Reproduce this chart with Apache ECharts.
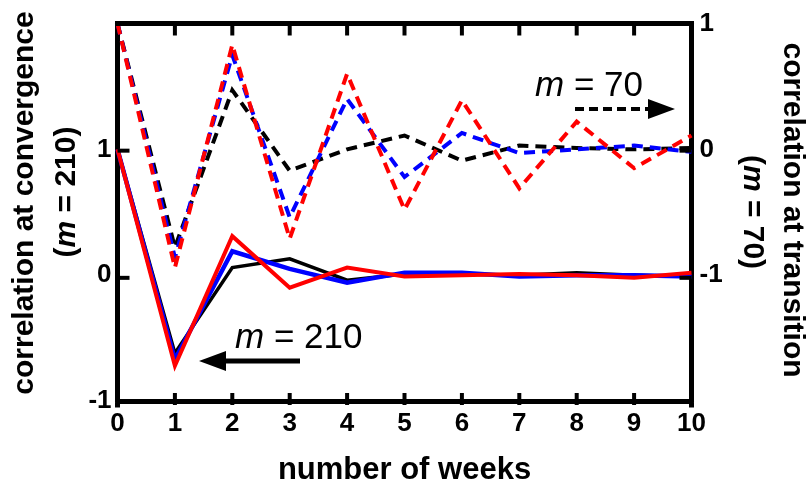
<!DOCTYPE html>
<html>
<head>
<meta charset="utf-8">
<script src="https://cdn.jsdelivr.net/npm/echarts@6/dist/echarts.min.js"></script>
<style>html,body{margin:0;padding:0;background:#fff}#c{width:811px;height:491px}</style>
</head>
<body>
<div id="c"></div>
<script>
// ---- data ----
const weeks = [0, 1, 2, 3, 4, 5, 6, 7, 8, 9, 10];
// correlation at convergence (m = 210), left axis, solid lines
const convBlack = [1, -0.62, 0.06, 0.13, -0.04, 0.01, 0.01, 0.00, 0.02, 0.00, -0.01];
const convBlue  = [1, -0.67, 0.19, 0.05, -0.06, 0.02, 0.02, -0.01, 0.00, 0.00, -0.01];
const convRed   = [1, -0.72, 0.31, -0.10, 0.06, -0.01, 0.00, 0.01, 0.00, -0.02, 0.02];
// correlation at transition (m = 70), right axis, dashed lines
const transBlack = [1, -0.78, 0.47, -0.17, 0.00, 0.11, -0.09, 0.03, 0.01, 0.00, 0.01];
const transBlue  = [1, -0.86, 0.75, -0.54, 0.40, -0.22, 0.13, -0.03, 0.00, 0.03, -0.02];
const transRed   = [1, -0.94, 0.83, -0.71, 0.60, -0.48, 0.39, -0.31, 0.22, -0.15, 0.11];
// tick labels / inner tick marks
const leftTicks = [-1, 0, 1];
const rightTicks = [-1, 0, 1];
const xInnerTicks = [1, 2, 3, 4, 5, 6, 7, 8, 9];
const leftInnerTicks = [0, 1];
const rightInnerTicks = [-1, 0];

const FONT = '"Liberation Sans", Arial, sans-serif';
const pair = (ys) => weeks.map((w, i) => [w, ys[i]]);

const GRID = {left: 117.5, right: 119.5, top: 23.5, bottom: 86};
const W = 811, H = 491, TICK_PX = 12, TICK_W = 4;
const X_MIN = 0, X_MAX = 10, YL_MIN = -1, YL_MAX = 2, YR_MIN = -2, YR_MAX = 1;
const plotW = W - GRID.left - GRID.right, plotH = H - GRID.top - GRID.bottom;

const chart = echarts.init(document.getElementById('c'), null, {renderer: 'canvas', width: W, height: H});

const labelStyle = {color: '#000', fontSize: 26, fontWeight: 'bold', fontFamily: FONT};
const mkLine = () => ({show: true, onZero: false, lineStyle: {color: '#000', width: 5}});

function lineSeries(data, color, yIdx, dashed, width) {
  return {
    type: 'line', data: pair(data), xAxisIndex: 0, yAxisIndex: yIdx,
    symbol: 'none', animation: false, silent: true,
    lineStyle: {color: color, width: width, type: dashed ? [11, 7] : 'solid', cap: 'butt', join: 'miter'},
    z: dashed ? 2 : 3
  };
}

// scale helpers matching the axis ranges (for the frame's inner tick marks)
const sx = v => GRID.left + (v - X_MIN) / (X_MAX - X_MIN) * plotW;
const syL = v => GRID.top + (YL_MAX - v) / (YL_MAX - YL_MIN) * plotH;
const syR = v => GRID.top + (YR_MAX - v) / (YR_MAX - YR_MIN) * plotH;
const tickEls = [];
const addRect = (x, y, w, h) => tickEls.push({type: 'rect', silent: true, z: 50,
  shape: {x: x, y: y, width: w, height: h}, style: {fill: '#000', stroke: null}});
const yBot = syL(YL_MIN), yTop = syL(YL_MAX), xL = sx(X_MIN), xR = sx(X_MAX);
xInnerTicks.forEach(x => {
  const px = sx(x);
  addRect(px - TICK_W / 2, yBot - TICK_PX, TICK_W, TICK_PX);
  addRect(px - TICK_W / 2, yTop, TICK_W, TICK_PX);
});
leftInnerTicks.forEach(v => addRect(xL, syL(v) - TICK_W / 2, TICK_PX, TICK_W));
rightInnerTicks.forEach(v => addRect(xR - TICK_PX, syR(v) - TICK_W / 2, TICK_PX, TICK_W));

const italicRich = (size, weight) => ({i: {fontStyle: 'italic', fontWeight: weight, fontSize: size, fontFamily: FONT, fill: '#000'}});

chart.setOption({
  animation: false,
  backgroundColor: '#fff',
  grid: Object.assign({show: false}, GRID),
  xAxis: [
    {type: 'value', position: 'bottom', min: X_MIN, max: X_MAX, interval: 1,
     axisLine: mkLine(), axisTick: {show: false}, splitLine: {show: false},
     axisLabel: Object.assign({margin: 10}, labelStyle),
     name: 'number of weeks', nameLocation: 'middle', nameGap: 54,
     nameTextStyle: {color: '#000', fontSize: 31, fontWeight: 'bold', fontFamily: FONT}},
    {type: 'value', position: 'top', min: X_MIN, max: X_MAX, interval: 1,
     axisLine: mkLine(), axisTick: {show: false}, splitLine: {show: false}, axisLabel: {show: false}}
  ],
  yAxis: [
    {type: 'value', position: 'left', min: YL_MIN, max: YL_MAX, interval: 1,
     axisLine: mkLine(), axisTick: {show: false}, splitLine: {show: false},
     axisLabel: Object.assign({margin: 6, formatter: v => leftTicks.indexOf(v) >= 0 ? String(v) : ''}, labelStyle)},
    {type: 'value', position: 'right', min: YR_MIN, max: YR_MAX, interval: 1,
     axisLine: mkLine(), axisTick: {show: false}, splitLine: {show: false},
     axisLabel: Object.assign({margin: 8, formatter: v => rightTicks.indexOf(v) >= 0 ? String(v) : ''}, labelStyle)}
  ],
  series: [
    lineSeries(transBlack, '#000000', 1, true, 4),
    lineSeries(transBlue, '#0000ff', 1, true, 4),
    lineSeries(transRed, '#ff0000', 1, true, 4),
    lineSeries(convBlack, '#000000', 0, false, 3.5),
    lineSeries(convBlue, '#0000ff', 0, false, 4.5),
    lineSeries(convRed, '#ff0000', 0, false, 4)
  ],
  graphic: tickEls.concat([
    // frame corners (fill the joins of the thick axis lines)
    {type: 'rect', silent: true, z: 50, shape: {x: xL - 2.5, y: yTop - 2.5, width: 5, height: 5}, style: {fill: '#000'}},
    {type: 'rect', silent: true, z: 50, shape: {x: xR - 2.5, y: yTop - 2.5, width: 5, height: 5}, style: {fill: '#000'}},
    {type: 'rect', silent: true, z: 50, shape: {x: xL - 2.5, y: yBot - 2.5, width: 5, height: 5}, style: {fill: '#000'}},
    {type: 'rect', silent: true, z: 50, shape: {x: xR - 2.5, y: yBot - 2.5, width: 5, height: 5}, style: {fill: '#000'}},
    // left axis title
    {type: 'text', x: 25, y: 203, rotation: Math.PI / 2, silent: true,
     style: {text: 'correlation at convergence', font: 'bold 30px ' + FONT, fill: '#000', align: 'center', verticalAlign: 'middle'}},
    {type: 'text', x: 67, y: 192, rotation: Math.PI / 2, silent: true,
     style: {text: '({i|m} = 210)', font: 'bold 30px ' + FONT, fill: '#000', align: 'center', verticalAlign: 'middle', rich: italicRich(30, 'bold')}},
    // right axis title
    {type: 'text', x: 792, y: 210, rotation: -Math.PI / 2, silent: true,
     style: {text: 'correlation at transition', font: 'bold 30px ' + FONT, fill: '#000', align: 'center', verticalAlign: 'middle'}},
    {type: 'text', x: 752, y: 212, rotation: -Math.PI / 2, silent: true,
     style: {text: '({i|m} = 70)', font: 'bold 30px ' + FONT, fill: '#000', align: 'center', verticalAlign: 'middle', rich: italicRich(30, 'bold')}},
    // m = 210 annotation
    {type: 'text', x: 235, y: 338, silent: true, z: 10,
     style: {text: '{i|m} = 210', font: '35px ' + FONT, fill: '#000', align: 'left', verticalAlign: 'middle', rich: italicRich(35, 'normal')}},
    {type: 'line', silent: true, z: 10, shape: {x1: 300, y1: 361, x2: 222, y2: 361}, style: {stroke: '#000', lineWidth: 5}},
    {type: 'polygon', silent: true, z: 10, shape: {points: [[199, 361], [226, 351], [226, 371]]}, style: {fill: '#000'}},
    // m = 70 annotation
    {type: 'text', x: 535, y: 86, silent: true, z: 10,
     style: {text: '{i|m} = 70', font: '35px ' + FONT, fill: '#000', align: 'left', verticalAlign: 'middle', rich: italicRich(35, 'normal')}},
    {type: 'line', silent: true, z: 10, shape: {x1: 575, y1: 109, x2: 650, y2: 109}, style: {stroke: '#000', lineWidth: 4, lineDash: [9, 5]}},
    {type: 'polygon', silent: true, z: 10, shape: {points: [[675, 109], [648, 99], [648, 119]]}, style: {fill: '#000'}}
  ])
});
</script>
</body>
</html>
